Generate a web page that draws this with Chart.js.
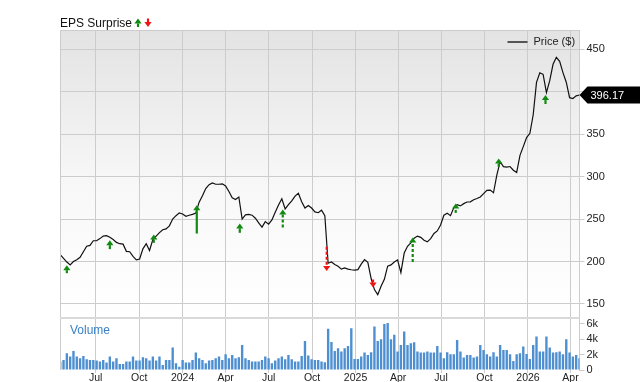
<!DOCTYPE html>
<html>
<head>
<meta charset="utf-8">
<script src="https://cdn.jsdelivr.net/npm/chart.js@4.4.1/dist/chart.umd.min.js"></script>
<style>
  html, body { margin: 0; padding: 0; background: #fff; }
  #wrap { width: 640px; height: 382px; position: relative; }
</style>
</head>
<body>
<div id="wrap"><canvas id="chart" width="640" height="382"></canvas></div>
<script>
// weekly closes, first week starting 2023-04-17
const startDate = "2023-04-17";
const priceWeekly = [
  208, 203.8, 199.4, 196, 200, 202, 205, 211.5, 218, 219,
  224.5, 224.5, 227, 230, 230.5, 228.5, 226, 222.5, 221, 220.5,
  212, 211.5, 206, 202, 203, 215, 221, 213, 226, 230,
  234, 237.5, 238.5, 242, 250, 254, 257.3, 256, 253.3, 254.5,
  255.5, 257, 270, 277.5, 286, 290.5, 292.5, 291, 291, 291.5,
  289, 282.5, 275, 273, 276, 250, 255, 255.5, 254.6, 251,
  245.5, 240.5, 247, 244, 249, 258, 266.5, 274, 262, 267,
  271.5, 277, 280.5, 270.5, 263, 266, 263, 258.5, 257.5, 260.5,
  254, 198, 199.5, 196.5, 194.5, 191, 192.5, 191, 190.3, 190,
  190.5, 197, 202.3, 199, 180, 167, 161, 171, 179, 194.5,
  196, 199.5, 202, 187, 210, 218, 222, 227.5, 230, 228.5,
  225, 223.2, 227, 233, 236, 243, 254.5, 256.8, 254, 263.5,
  267, 265.5, 268.2, 270.1, 270.3, 272.7, 274.2, 276.1, 280, 283.9,
  284.2, 281, 301.8, 317.7, 311.8, 311.3, 311.9, 307.6, 304.8, 325,
  335.3, 346, 351, 372.9, 411, 422.2, 420.5, 399, 413, 432.3,
  440.5, 435.8, 422.5, 411.2, 393, 392, 395.1, 396.17
];
// weekly volume, thousands
const volumeWeekly = [
  1.09, 1.30, 2.17, 1.74, 2.48, 1.74, 1.52, 1.83, 1.39, 1.30,
  1.30, 1.22, 1.09, 1.30, 0.96, 1.74, 1.09, 1.52, 0.78, 0.78,
  1.09, 1.09, 1.74, 1.22, 1.22, 1.65, 1.52, 1.22, 1.74, 1.22,
  1.74, 0.65, 1.30, 1.30, 2.91, 0.87, 0.43, 1.30, 0.96, 0.96,
  1.30, 2.26, 1.52, 1.30, 0.87, 1.22, 1.30, 1.52, 1.74, 1.30,
  2.04, 1.52, 1.96, 1.52, 1.65, 3.26, 1.52, 1.30, 1.09, 1.09,
  1.09, 1.30, 1.74, 1.52, 0.87, 1.22, 1.52, 1.74, 1.39, 1.96,
  1.39, 1.09, 1.09, 1.83, 3.78, 1.87, 1.39, 1.30, 1.30, 1.09,
  1.00, 5.35, 3.65, 2.48, 2.83, 2.39, 2.83, 3.13, 5.43, 1.43,
  1.43, 1.74, 2.26, 1.96, 2.30, 5.65, 3.78, 4.00, 5.96, 6.09,
  4.00, 4.57, 2.39, 3.26, 5.00, 3.26, 3.48, 3.61, 2.39, 2.26,
  2.26, 2.39, 2.26, 2.26, 3.13, 2.26, 1.52, 2.30, 2.04, 2.04,
  3.91, 2.39, 1.61, 1.96, 1.96, 1.61, 1.74, 3.26, 2.61, 2.04,
  1.74, 2.30, 1.74, 3.26, 2.61, 2.61, 2.04, 1.17, 2.04, 2.17,
  3.04, 2.09, 1.43, 3.26, 4.35, 2.39, 2.39, 4.35, 2.91, 2.26,
  2.30, 2.39, 2.04, 4.00, 2.26, 1.74, 1.96, 1.52
];

const tickDates = ["2023-07-01", "2023-10-01", "2024-01-01", "2024-04-01", "2024-07-01", "2024-10-01",
  "2025-01-01", "2025-04-01", "2025-07-01", "2025-10-01", "2026-01-01", "2026-04-01"];
const tickLabels = ["Jul", "Oct", "2024", "Apr", "Jul", "Oct", "2025", "Apr", "Jul", "Oct", "2026", "Apr"];
const priceTicks = [150, 200, 250, 300, 350, 400, 450];
const volumeTicks = [0, 2, 4, 6];

// EPS surprise arrows: tail -> tip price, beat (green) or miss (red)
const epsDates = ["2023-05-01", "2023-07-31", "2023-11-01", "2024-01-31", "2024-05-01", "2024-07-31",
  "2024-11-01", "2025-02-07", "2025-05-02", "2025-08-01", "2025-10-31", "2026-02-07"];
const epsTail = [186.3, 214.6, 222, 233, 233.8, 240.1, 217.3, 178.8, 199.6, 257.3, 311.6, 385.5];
const epsTip = [195.7, 225.2, 231.9, 266.4, 244.9, 261.4, 189, 169.4, 228.3, 268.4, 321.5, 396.1];
const epsBeat = [true, true, true, true, true, true, false, false, true, true, true, true];
const epsDashed = [false, false, false, false, false, true, true, false, true, true, false, false];

const lastPrice = 396.17;

const FONT = "'Liberation Sans', Arial, Helvetica, sans-serif";
const GREEN = "#128a12";
const RED = "#f01414";
const GRID = "#cccccc";

function dayOf(str) {
  return (Date.parse(str + "T00:00:00Z") - Date.UTC(2023, 0, 1)) / 86400000;
}

const startDay = dayOf(startDate);
const axisMin = startDay - 0.5;
const axisMax = startDay + 7 * (priceWeekly.length - 1);

function drawArrow(ctx, x, yTail, yTip, color, dashed) {
  const dir = yTip < yTail ? -1 : 1;
  const headH = 5;
  const headW = 3.6;
  const baseY = yTip - dir * headH;
  ctx.save();
  ctx.strokeStyle = color;
  ctx.lineWidth = 2.2;
  ctx.setLineDash(dashed ? [3, 2] : []);
  ctx.beginPath();
  ctx.moveTo(x, yTail);
  ctx.lineTo(x, baseY);
  ctx.stroke();
  ctx.setLineDash([]);
  ctx.fillStyle = color;
  ctx.beginPath();
  ctx.moveTo(x, yTip);
  ctx.lineTo(x - headW, baseY);
  ctx.lineTo(x + headW, baseY);
  ctx.closePath();
  ctx.fill();
  ctx.restore();
}

const panelPlugin = {
  id: "panels",
  beforeDraw(chart) {
    const { ctx, chartArea } = chart;
    const y = chart.scales.y;
    const g = ctx.createLinearGradient(0, y.top, 0, y.bottom);
    g.addColorStop(0, "#e3e3e3");
    g.addColorStop(0.55, "#f8f8f8");
    g.addColorStop(1, "#ffffff");
    ctx.save();
    ctx.fillStyle = g;
    ctx.fillRect(chartArea.left, y.top, chartArea.right - chartArea.left, y.bottom - y.top);
    ctx.restore();
  },
  afterDraw(chart) {
    const { ctx, chartArea } = chart;
    const xs = chart.scales.x;
    const ys = chart.scales.y;
    const yv = chart.scales.yv;
    ctx.save();

    // frame
    ctx.strokeStyle = GRID;
    ctx.lineWidth = 1;
    ctx.beginPath();
    ctx.moveTo(chartArea.left + 0.5, chartArea.bottom);
    ctx.lineTo(chartArea.left + 0.5, chartArea.top + 0.5);
    ctx.lineTo(chartArea.right, chartArea.top + 0.5);
    ctx.stroke();
    ctx.strokeStyle = "#d9d9d9";
    ctx.lineWidth = 2;
    ctx.beginPath();
    ctx.moveTo(chartArea.left, ys.bottom);
    ctx.lineTo(chartArea.right, ys.bottom);
    ctx.stroke();

    // EPS arrows
    epsDates.forEach((d, i) => {
      const x = xs.getPixelForValue(dayOf(d));
      drawArrow(ctx, x, ys.getPixelForValue(epsTail[i]), ys.getPixelForValue(epsTip[i]),
        epsBeat[i] ? GREEN : RED, epsDashed[i]);
    });

    // title
    ctx.fillStyle = "#111";
    ctx.font = "12px " + FONT;
    ctx.textBaseline = "alphabetic";
    ctx.textAlign = "left";
    ctx.fillText("EPS Surprise", chartArea.left, 27);
    drawArrow(ctx, 138, 27, 18.5, "#0a8a0a", false);
    drawArrow(ctx, 148, 18.5, 27, RED, false);

    // legend
    const lx = chartArea.right - 72;
    ctx.strokeStyle = "#555";
    ctx.lineWidth = 2;
    ctx.beginPath();
    ctx.moveTo(lx, chartArea.top + 12);
    ctx.lineTo(lx + 20, chartArea.top + 12);
    ctx.stroke();
    ctx.fillStyle = "#222";
    ctx.font = "11px " + FONT;
    ctx.textBaseline = "middle";
    ctx.fillText("Price ($)", lx + 26, chartArea.top + 12);

    // volume label
    ctx.fillStyle = "#3a82c6";
    ctx.font = "12px " + FONT;
    ctx.textBaseline = "alphabetic";
    ctx.fillText("Volume", chartArea.left + 10, yv.top + 16);

    // last price tag
    const py = ys.getPixelForValue(lastPrice);
    const px = chartArea.right;
    ctx.fillStyle = "#000";
    ctx.beginPath();
    ctx.moveTo(px, py);
    ctx.lineTo(px + 8, py - 8.5);
    ctx.lineTo(640, py - 8.5);
    ctx.lineTo(640, py + 8.5);
    ctx.lineTo(px + 8, py + 8.5);
    ctx.closePath();
    ctx.fill();
    ctx.fillStyle = "#fff";
    ctx.font = "11px " + FONT;
    ctx.textBaseline = "middle";
    ctx.fillText(lastPrice.toFixed(2), px + 11, py + 0.5);
    ctx.restore();
  }
};

Chart.defaults.font.family = FONT;

new Chart(document.getElementById("chart").getContext("2d"), {
  data: {
    datasets: [
      {
        type: "line",
        label: "Price ($)",
        data: priceWeekly.map((p, i) => ({ x: startDay + 7 * i, y: p })),
        yAxisID: "y",
        borderColor: "#111",
        borderWidth: 1.2,
        pointRadius: 0,
        tension: 0,
        order: 0,
      },
      {
        type: "bar",
        label: "Volume",
        data: volumeWeekly.map((v, i) => ({ x: startDay + 7 * i, y: v })),
        yAxisID: "yv",
        backgroundColor: "#4d8fd1",
        barPercentage: 0.72,
        categoryPercentage: 1,
        order: 1,
      },
    ],
  },
  options: {
    responsive: false,
    animation: false,
    layout: { padding: { left: 60, top: 30, right: 0, bottom: 0 } },
    plugins: {
      legend: { display: false },
      tooltip: { enabled: false },
    },
    scales: {
      x: {
        type: "linear",
        offset: false,
        min: axisMin,
        max: axisMax,
        afterBuildTicks: (s) => { s.ticks = tickDates.map((d) => ({ value: dayOf(d) })); },
        afterFit: (s) => { s.height = 12; },
        ticks: {
          autoSkip: false,
          maxRotation: 0,
          padding: -1,
          color: "#222",
          font: { size: 10.5 },
          callback: (v, i) => tickLabels[i],
        },
        grid: { color: GRID, tickLength: 3, offset: false },
        border: { display: false },
      },
      y: {
        type: "linear",
        position: "right",
        stack: "panels",
        stackWeight: 288,
        weight: 0,
        min: 133.5,
        max: 472.7,
        afterBuildTicks: (s) => { s.ticks = priceTicks.map((v) => ({ value: v })); },
        afterFit: (s) => { s.width = 60.5; },
        ticks: { autoSkip: false, padding: 2, color: "#222", font: { size: 11 } },
        grid: { color: GRID, tickLength: 5 },
        border: { color: GRID },
      },
      yv: {
        type: "linear",
        position: "right",
        stack: "panels",
        stackWeight: 52,
        weight: 1,
        min: 0,
        max: 6.75,
        afterBuildTicks: (s) => { s.ticks = volumeTicks.map((v) => ({ value: v })); },
        afterFit: (s) => { s.width = 60.5; },
        ticks: {
          autoSkip: false,
          padding: 2,
          color: "#222",
          font: { size: 11 },
          callback: (v) => (v === 0 ? "0" : v + "k"),
        },
        grid: { drawOnChartArea: false, color: GRID, tickLength: 5 },
        border: { color: GRID },
      },
    },
  },
  plugins: [panelPlugin],
});
</script>
</body>
</html>
